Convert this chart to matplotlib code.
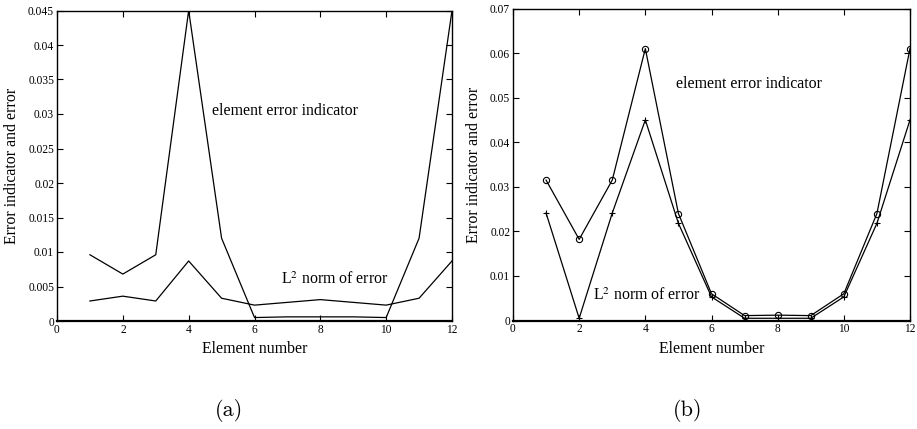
import matplotlib

matplotlib.use("Agg")
import matplotlib.pyplot as plt
from matplotlib.ticker import FuncFormatter

elements = [1, 2, 3, 4, 5, 6, 7, 8, 9, 10, 11, 12]

# panel (a)
indicator_a = [0.0096, 0.0068, 0.0096, 0.045, 0.012, 0.0005,
               0.0006, 0.0006, 0.0006, 0.0005, 0.012, 0.045]
l2_error_a = [0.0029, 0.0036, 0.0029, 0.0087, 0.0033, 0.0023,
              0.0027, 0.0031, 0.0027, 0.0023, 0.0033, 0.0087]

# panel (b)
indicator_b = [0.0315, 0.0182, 0.0315, 0.061, 0.024, 0.006,
               0.0011, 0.0012, 0.0011, 0.006, 0.024, 0.061]
l2_error_b = [0.0241, 0.0005, 0.0241, 0.045, 0.0218, 0.0053,
              0.0005, 0.0005, 0.0005, 0.0053, 0.0218, 0.045]

SERIF = ["Liberation Serif", "DejaVu Serif"]
plt.rcParams["font.family"] = SERIF
plt.rcParams["mathtext.fontset"] = "stix"


def _fmt(v, pos):
    return "%g" % round(v, 6)


def _style_axes(ax, ymax, ystep):
    ax.set_xlim(0, 12)
    ax.set_ylim(0, ymax)
    ax.set_xticks(range(0, 13, 2))
    ax.set_yticks([i * ystep for i in range(int(round(ymax / ystep)) + 1)])
    ax.yaxis.set_major_formatter(FuncFormatter(_fmt))
    ax.tick_params(direction="in", top=True, right=True, length=4,
                   width=0.8, labelsize=8.3, pad=2)
    for s in ax.spines.values():
        s.set_linewidth(1.0)
    ax.spines["bottom"].set_linewidth(1.6)
    ax.set_xlabel("Element number", fontsize=11.4, labelpad=4)
    ax.set_ylabel("Error indicator and error", fontsize=11.4, labelpad=6)


fig = plt.figure(figsize=(9.17, 4.29), dpi=100)
W, H = 917, 429
ax_a = fig.add_axes([57 / W, 1 - 321 / H, 395 / W, 310.5 / H])
ax_b = fig.add_axes([513 / W, 1 - 320.5 / H, 397 / W, 312 / H])

ax_a.plot(elements, indicator_a, color="black", linewidth=0.9)
ax_a.plot(elements, l2_error_a, color="black", linewidth=0.9)
_style_axes(ax_a, 0.045, 0.005)
ax_a.text(4.72, 0.0305, "element error indicator", fontsize=11.4, va="center")
ax_a.text(6.8, 0.006, r"L$^2$ norm of error", fontsize=11.4, va="center")

ax_b.plot(elements, indicator_b, color="black", linewidth=0.9, marker="o",
          markersize=4.5, markerfacecolor="none", markeredgewidth=0.8)
ax_b.plot(elements, l2_error_b, color="black", linewidth=0.9, marker="+",
          markersize=5, markeredgewidth=0.8)
_style_axes(ax_b, 0.07, 0.01)
ax_b.text(4.93, 0.053, "element error indicator", fontsize=11.4, va="center")
ax_b.text(2.42, 0.0055, r"L$^2$ norm of error", fontsize=11.4, va="center")

fig.text(229 / W, 1 - 410 / H, "(a)", fontsize=16, ha="center", va="center",
         family=["cmr10", "DejaVu Serif"])
fig.text(688 / W, 1 - 410 / H, "(b)", fontsize=16, ha="center", va="center",
         family=["cmr10", "DejaVu Serif"])

fig.savefig("out.png", dpi=100)
